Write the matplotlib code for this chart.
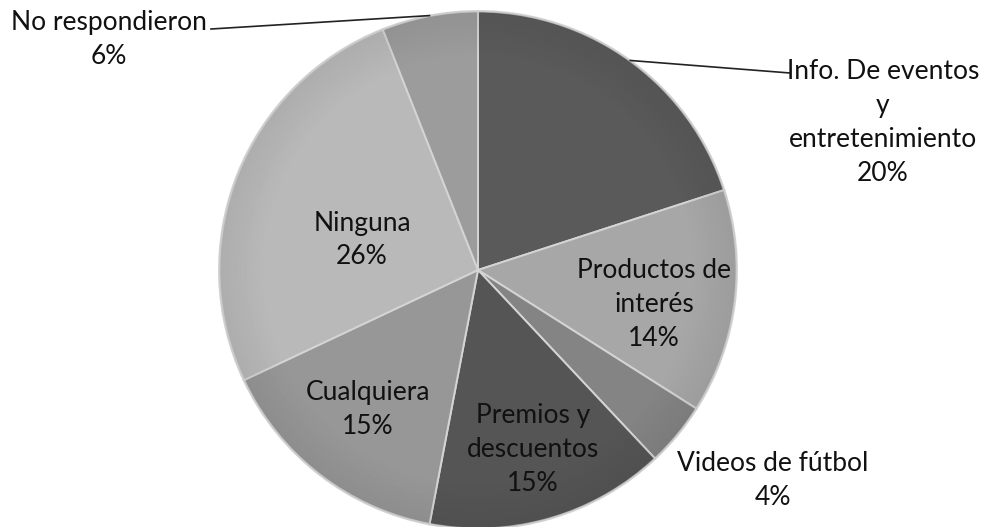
import numpy as np
import matplotlib.pyplot as plt
from matplotlib.patches import Wedge

plt.rcParams['font.family'] = ['Lato', 'DejaVu Sans']

# survey answers, clockwise from 12 o'clock
labels = ['Info. De eventos\ny\nentretenimiento', 'Productos de\ninterés', 'Videos de fútbol',
          'Premios y\ndescuentos', 'Cualquiera', 'Ninguna', 'No respondieron']
pct = [20, 14, 4, 15, 15, 26, 6]
colors = ['#5a5a5a', '#a7a7a7', '#848484', '#555555', '#979797', '#b9b9b9', '#9c9c9c']

W, H = 1000, 527
R = 259.0
cx, cy = 478, 270  # pie centre in pixels from top-left

fig = plt.figure(figsize=(W / 100, H / 100), dpi=100)
ax = fig.add_axes([0, 0, 1, 1])

wedges, _ = ax.pie(pct, colors=colors, startangle=90, counterclock=False, radius=1,
                   wedgeprops=dict(edgecolor='#d4d4d4', linewidth=1.4))

ax.set_xlim(-cx / R, (W - cx) / R)
ax.set_ylim(-(H - cy) / R, cy / R)
ax.set_aspect('equal')
ax.axis('off')

# darker rim shading
n = 14
for i in range(n):
    r = 1 - i * 0.012
    ax.add_patch(Wedge((0, 0), r, 0, 360, width=0.012, facecolor='black',
                       alpha=0.06 * (1 - i / n), linewidth=0))
ax.add_patch(Wedge((0, 0), 1.0, 0, 360, width=0.006, facecolor='#cfcfcf', alpha=0.6, linewidth=0))

def px(x, y):
    return (x - cx) / R, (cy - y) / R

fs = 19
ls = 1.45
# labels inside the slices
inside = {1: (654, 305), 3: (533, 450), 4: (368, 410), 5: (362, 240)}
for i, (x, y) in inside.items():
    tx, ty = px(x, y)
    ax.text(tx, ty, f'{labels[i]}\n{pct[i]}%', ha='center', va='center',
            fontsize=fs, linespacing=ls, color='#111111')

# labels outside
tx, ty = px(773, 481)
ax.text(tx, ty, f'{labels[2]}\n{pct[2]}%', ha='center', va='center',
        fontsize=fs, linespacing=ls, color='#111111')

def rim(w):
    a = np.deg2rad((w.theta1 + w.theta2) / 2)
    return np.cos(a), np.sin(a)

tx, ty = px(883, 122)
ax.text(tx, ty, f'{labels[0]}\n{pct[0]}%', ha='center', va='center',
        fontsize=fs, linespacing=ls, color='#111111')
x0, y0 = rim(wedges[0])
x1, y1 = px(790, 73)
ax.plot([x0, x1], [y0, y1], color='#222222', lw=1.2)

tx, ty = px(109, 39)
ax.text(tx, ty, f'{labels[6]}\n{pct[6]}%', ha='center', va='center',
        fontsize=fs, linespacing=ls, color='#111111')
x0, y0 = rim(wedges[6])
x1, y1 = px(211, 29)
ax.plot([x0, x1], [y0, y1], color='#222222', lw=1.2)

fig.savefig('out.png', dpi=100)
